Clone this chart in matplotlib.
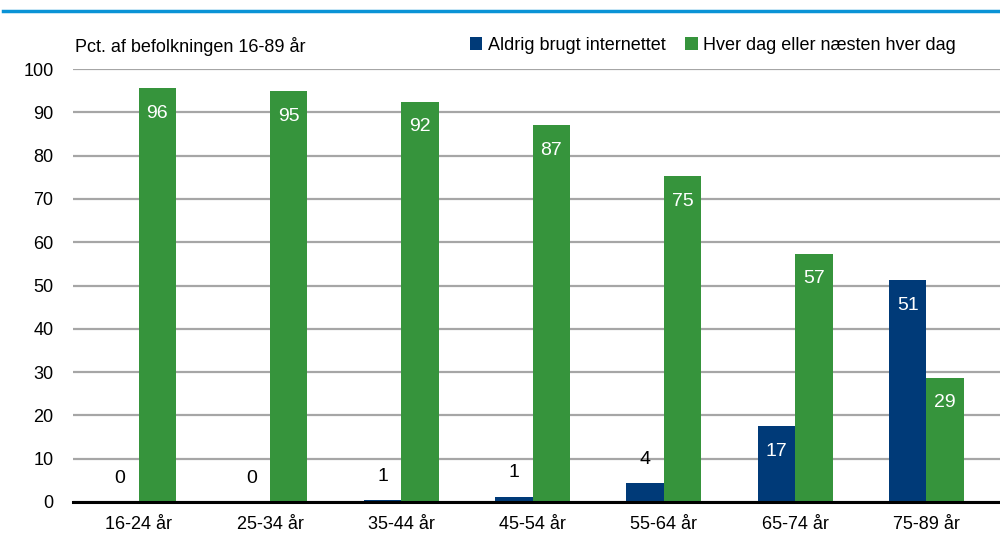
import matplotlib.pyplot as plt
import numpy as np
from matplotlib.lines import Line2D

plt.rcParams['font.family'] = ['Liberation Sans', 'DejaVu Sans']

# Data
aldersgrupper = ['16-24 år', '25-34 år', '35-44 år', '45-54 år', '55-64 år', '65-74 år', '75-89 år']
aldrig = [0.0, 0.0, 0.5, 1.2, 4.3, 17.5, 51.3]
hver_dag = [95.6, 94.9, 92.5, 87.1, 75.3, 57.4, 28.7]
aldrig_labels = [0, 0, 1, 1, 4, 17, 51]
hver_dag_labels = [96, 95, 92, 87, 75, 57, 29]

blaa = '#003a78'
groen = '#36943c'

fig = plt.figure(figsize=(10, 5.4), dpi=100)
ax = fig.add_axes([0.073, 0.0704, 0.927, 0.8016])

x = np.arange(len(aldersgrupper))
w = 0.285
ax.bar(x - w / 2, aldrig, w, color=blaa, label='Aldrig brugt internettet', zorder=3)
ax.bar(x + w / 2, hver_dag, w, color=groen, label='Hver dag eller næsten hver dag', zorder=3)

# Etiketter
for i in x:
    v = aldrig[i]
    if v > 10:
        ax.text(i - w / 2, v - 5.8, str(aldrig_labels[i]), ha='center', va='center',
                color='white', fontsize=14, zorder=4)
    else:
        ax.text(i - w / 2, v + 5.5, str(aldrig_labels[i]), ha='center', va='center',
                color='black', fontsize=14, zorder=4)
    ax.text(i + w / 2, hver_dag[i] - 5.8, str(hver_dag_labels[i]), ha='center', va='center',
            color='white', fontsize=14, zorder=4)

ax.set_ylim(0, 100)
ax.set_xlim(-0.5, 6.56)
ax.set_yticks(range(0, 101, 10))
ax.set_xticks(x)
ax.set_xticklabels(aldersgrupper)
ax.tick_params(axis='both', length=0, labelsize=13)
ax.tick_params(axis='y', pad=14)
ax.tick_params(axis='x', pad=10)
ax.grid(True, axis='y', color='#a6a6a6', linewidth=1.6, zorder=0)
for s in ['top', 'right', 'left']:
    ax.spines[s].set_visible(False)
ax.spines['bottom'].set_linewidth(2.2)
ax.spines['bottom'].set_zorder(5)

fig.text(0.075, 0.913, 'Pct. af befolkningen 16-89 år', fontsize=13, va='center')
ax.legend(loc='center left', bbox_to_anchor=(0.42, 1.055), ncol=2, frameon=False,
          fontsize=13, handlelength=0.7, handleheight=0.7, handletextpad=0.3,
          columnspacing=1.1, borderaxespad=0)

# Blaa linje
fig.add_artist(Line2D([0.003, 1.0], [0.979, 0.979], color='#0a93d6', linewidth=2.5))

fig.savefig('out.png', dpi=100)
